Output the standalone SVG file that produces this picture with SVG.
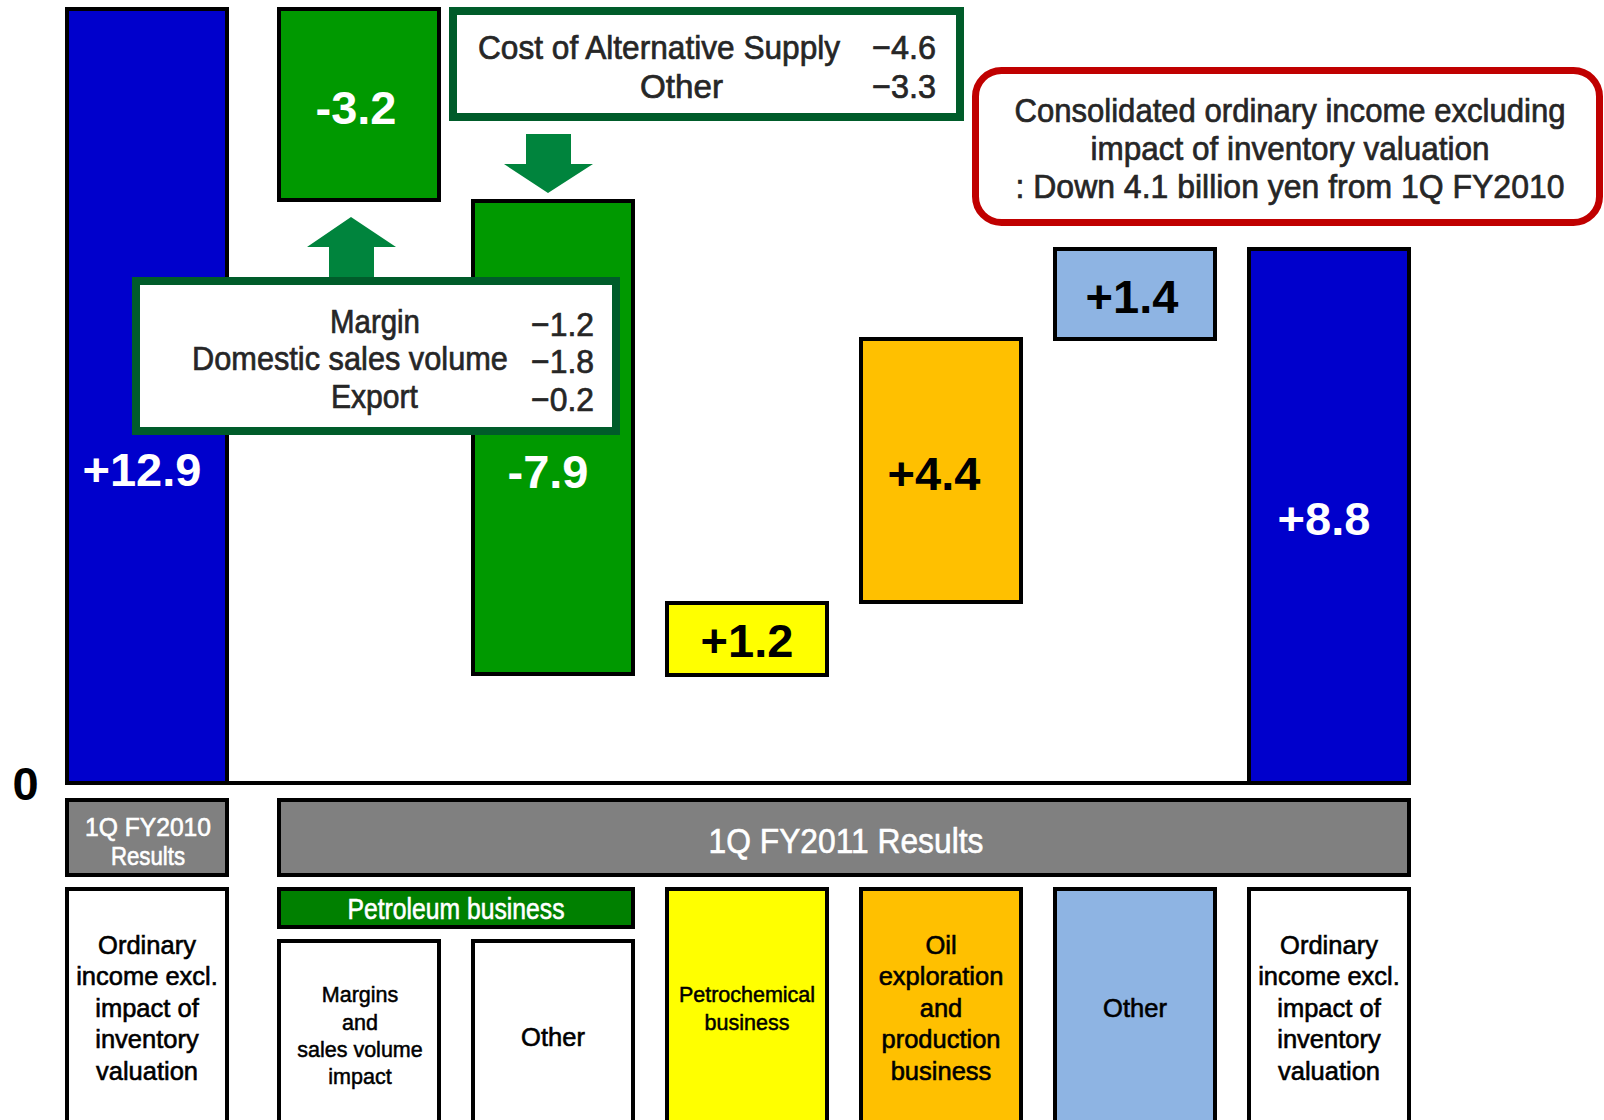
<svg xmlns="http://www.w3.org/2000/svg" width="1604" height="1120" viewBox="0 0 1604 1120">
<style>
.bar{stroke:#000;stroke-width:4}
.num{font-family:"Liberation Sans",Arial,sans-serif;font-weight:bold;font-size:47px;text-anchor:middle}
.w{fill:#fff}
.k{fill:#000}
.call{font-family:"Liberation Sans",Arial,sans-serif;font-size:34px;fill:#262626;stroke:#262626;stroke-width:0.7}
.lab{font-family:"Liberation Sans",Arial,sans-serif;font-size:25.5px;fill:#000;stroke:#000;stroke-width:0.6;text-anchor:middle}
.sm{font-size:21.5px;stroke-width:0.5}
.hdr{font-family:"Liberation Sans",Arial,sans-serif;fill:#fff;stroke:#fff;stroke-width:0.6;text-anchor:middle}
.arrow{fill:#00843D}
.cbox{fill:#fff;stroke:#005C2A;stroke-width:8}
</style>
<rect width="1604" height="1120" fill="#fff"/>

<g id="bar-1q2010">
<rect class="bar" x="67" y="9" width="160" height="774" fill="#0000CC"/>
<text class="num w" x="142" y="486">+12.9</text>
</g>
<g id="bar-margins">
<rect class="bar" x="279" y="9" width="160" height="191" fill="#009900"/>
<text class="num w" x="356" y="124">-3.2</text>
</g>
<g id="bar-petro-other">
<rect class="bar" x="473" y="201" width="160" height="473" fill="#009900"/>
<text class="num w" x="548" y="488">-7.9</text>
</g>
<g id="bar-petrochem">
<rect class="bar" x="667" y="603" width="160" height="72" fill="#FFFF00"/>
<text class="num k" x="747" y="657">+1.2</text>
</g>
<g id="bar-oil">
<rect class="bar" x="861" y="339" width="160" height="263" fill="#FFC000"/>
<text class="num k" x="934" y="490">+4.4</text>
</g>
<g id="bar-other">
<rect class="bar" x="1055" y="249" width="160" height="90" fill="#8EB4E3"/>
<text class="num k" x="1132" y="313">+1.4</text>
</g>
<g id="bar-1q2011">
<rect class="bar" x="1249" y="249" width="160" height="534" fill="#0000CC"/>
<text class="num w" x="1324" y="535">+8.8</text>
</g>

<g id="axis">
<line x1="65" y1="783" x2="1411" y2="783" stroke="#000" stroke-width="4"/>
<text class="num k" x="25.5" y="800" font-size="46">0</text>
</g>

<g id="connectors">
<polygon class="arrow" points="351,217 396,247 374,247 374,282 329,282 329,247 307,247"/>
<polygon class="arrow" points="526,134 571,134 571,164 593,164 548,193 504,164 526,164"/>
</g>

<g id="callout-margin">
<rect class="cbox" x="136" y="281" width="480" height="150"/>
<text class="call" transform="translate(330,333) scale(0.866,1)" textLength="103.9" lengthAdjust="spacingAndGlyphs">Margin</text>
<text class="call" transform="translate(192,370) scale(0.904,1)" textLength="349.5" lengthAdjust="spacingAndGlyphs">Domestic sales volume</text>
<text class="call" transform="translate(331,408) scale(0.885,1)" textLength="98.3" lengthAdjust="spacingAndGlyphs">Export</text>
<text class="call" transform="translate(531,336) scale(0.939,1)" textLength="67.1" lengthAdjust="spacingAndGlyphs">−1.2</text>
<text class="call" transform="translate(531,373) scale(0.939,1)" textLength="67.1" lengthAdjust="spacingAndGlyphs">−1.8</text>
<text class="call" transform="translate(531,411) scale(0.939,1)" textLength="67.1" lengthAdjust="spacingAndGlyphs">−0.2</text>
</g>

<g id="callout-other">
<rect class="cbox" x="453" y="11" width="507" height="106"/>
<text class="call" transform="translate(478,59) scale(0.926,1)" textLength="391" lengthAdjust="spacingAndGlyphs">Cost of Alternative Supply</text>
<text class="call" transform="translate(872,59) scale(0.954,1)" textLength="67.1" lengthAdjust="spacingAndGlyphs">−4.6</text>
<text class="call" transform="translate(640,98) scale(0.976,1)" textLength="85" lengthAdjust="spacingAndGlyphs">Other</text>
<text class="call" transform="translate(872,98) scale(0.954,1)" textLength="67.1" lengthAdjust="spacingAndGlyphs">−3.3</text>
</g>

<g id="summary">
<rect x="975.5" y="70.5" width="624" height="152" rx="26" ry="26" fill="#fff" stroke="#C00000" stroke-width="7"/>
<text class="call" text-anchor="middle" transform="translate(1290,122) scale(0.914,1)" textLength="603" lengthAdjust="spacingAndGlyphs">Consolidated ordinary income excluding</text>
<text class="call" text-anchor="middle" transform="translate(1290,160) scale(0.926,1)" textLength="430.8" lengthAdjust="spacingAndGlyphs">impact of inventory valuation</text>
<text class="call" text-anchor="middle" transform="translate(1290,198) scale(0.94,1)" textLength="584" lengthAdjust="spacingAndGlyphs">: Down 4.1 billion yen from 1Q FY2010</text>
</g>

<g id="hdr-1q2010">
<rect class="bar" x="67" y="800" width="160" height="75" fill="#808080"/>
<text class="hdr" x="148" y="836" font-size="25" textLength="126" lengthAdjust="spacingAndGlyphs">1Q FY2010</text>
<text class="hdr" font-size="25" transform="translate(148,865) scale(0.89,1)" textLength="83.3" lengthAdjust="spacingAndGlyphs">Results</text>
</g>
<g id="hdr-1q2011">
<rect class="bar" x="279" y="800" width="1130" height="75" fill="#808080"/>
<text class="hdr" font-size="35" transform="translate(846,853) scale(0.881,1)" textLength="312" lengthAdjust="spacingAndGlyphs">1Q FY2011 Results</text>
</g>

<g id="lbl-1q2010">
<rect class="bar" x="67" y="889" width="160" height="250" fill="#fff"/>
<text class="lab" x="147" y="954">Ordinary</text>
<text class="lab" x="147" y="985">income excl.</text>
<text class="lab" x="147" y="1017">impact of</text>
<text class="lab" x="147" y="1048">inventory</text>
<text class="lab" x="147" y="1080">valuation</text>
</g>
<g id="hdr-petroleum">
<rect class="bar" x="279" y="889" width="354" height="38" fill="#008000"/>
<text class="hdr" font-size="29" transform="translate(456,919) scale(0.851,1)" textLength="255" lengthAdjust="spacingAndGlyphs">Petroleum business</text>
</g>
<g id="lbl-margins">
<rect class="bar" x="279" y="941" width="160" height="200" fill="#fff"/>
<text class="lab sm" x="360" y="1002">Margins</text>
<text class="lab sm" x="360" y="1030">and</text>
<text class="lab sm" x="360" y="1057">sales volume</text>
<text class="lab sm" x="360" y="1084">impact</text>
</g>
<g id="lbl-petro-other">
<rect class="bar" x="473" y="941" width="160" height="200" fill="#fff"/>
<text class="lab" x="553" y="1046">Other</text>
</g>
<g id="lbl-petrochem">
<rect class="bar" x="667" y="889" width="160" height="250" fill="#FFFF00"/>
<text class="lab sm" x="747" y="1002">Petrochemical</text>
<text class="lab sm" x="747" y="1030">business</text>
</g>
<g id="lbl-oil">
<rect class="bar" x="861" y="889" width="160" height="250" fill="#FFC000"/>
<text class="lab" x="941" y="954">Oil</text>
<text class="lab" x="941" y="985">exploration</text>
<text class="lab" x="941" y="1017">and</text>
<text class="lab" x="941" y="1048">production</text>
<text class="lab" x="941" y="1080">business</text>
</g>
<g id="lbl-other">
<rect class="bar" x="1055" y="889" width="160" height="250" fill="#8EB4E3"/>
<text class="lab" x="1135" y="1017">Other</text>
</g>
<g id="lbl-1q2011">
<rect class="bar" x="1249" y="889" width="160" height="250" fill="#fff"/>
<text class="lab" x="1329" y="954">Ordinary</text>
<text class="lab" x="1329" y="985">income excl.</text>
<text class="lab" x="1329" y="1017">impact of</text>
<text class="lab" x="1329" y="1048">inventory</text>
<text class="lab" x="1329" y="1080">valuation</text>
</g>
</svg>
